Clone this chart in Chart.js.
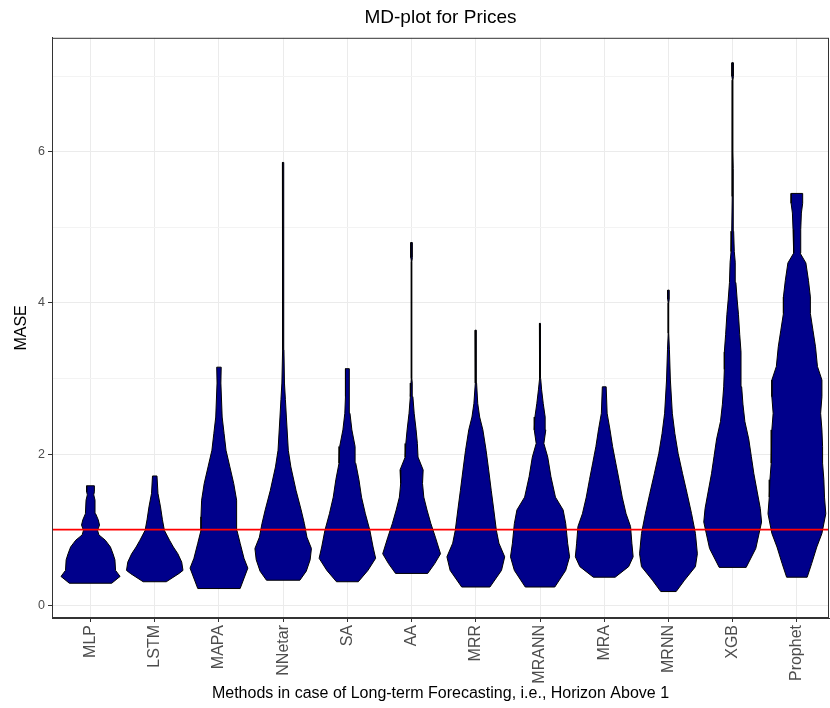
<!DOCTYPE html>
<html>
<head>
<meta charset="utf-8">
<title>MD-plot for Prices</title>
<script src="https://cdn.jsdelivr.net/npm/chart.js@4.4.0/dist/chart.umd.min.js"></script>
<style>
  html, body { margin: 0; padding: 0; background: #fff; overflow: hidden; }
  #wrap { width: 830px; height: 708px; position: relative; }
</style>
</head>
<body>
<div id="wrap"><canvas id="mdPlot"></canvas></div>
<script>
// methods on the x axis, in plot order
const methods = ['MLP', 'LSTM', 'MAPA', 'NNetar', 'SA', 'AA', 'MRR', 'MRANN', 'MRA', 'MRNN', 'XGB', 'Prophet'];

// density profiles: [MASE, half width in category units]
const mlp = [[0.29, 0.33], [0.38, 0.46], [0.46, 0.39], [0.60, 0.38], [0.68, 0.35], [0.77, 0.31], [0.86, 0.23], [0.93, 0.13], [0.99, 0.11], [1.06, 0.14], [1.13, 0.12], [1.21, 0.08], [1.39, 0.07], [1.46, 0.05], [1.50, 0.06], [1.58, 0.06]];
const lstm = [[0.31, 0.18], [0.42, 0.38], [0.46, 0.44], [0.57, 0.42], [0.68, 0.36], [0.77, 0.29], [0.86, 0.23], [0.99, 0.15], [1.13, 0.12], [1.30, 0.09], [1.48, 0.05], [1.71, 0.035]];
const mapa = [[0.22, 0.33], [0.49, 0.45], [0.62, 0.39], [0.82, 0.33], [0.99, 0.28], [1.17, 0.28], [1.39, 0.27], [1.61, 0.23], [1.83, 0.17], [2.05, 0.11], [2.27, 0.08], [2.49, 0.05], [2.94, 0.03], [3.15, 0.035]];
const nnetar = [[0.33, 0.26], [0.45, 0.36], [0.60, 0.42], [0.75, 0.44], [0.90, 0.37], [1.08, 0.33], [1.26, 0.28], [1.52, 0.20], [1.83, 0.12], [2.05, 0.08], [2.49, 0.05], [2.72, 0.035], [2.94, 0.02], [3.38, 0.012], [3.60, 0.012], [3.65, 0.004], [5.40, 0.004], [5.45, 0.012], [5.86, 0.012]];
const sa = [[0.31, 0.17], [0.46, 0.32], [0.62, 0.44], [0.77, 0.40], [0.99, 0.35], [1.21, 0.28], [1.43, 0.22], [1.66, 0.18], [1.88, 0.13], [2.10, 0.12], [2.32, 0.07], [2.54, 0.04], [2.76, 0.03], [3.13, 0.03]];
const aa = [[0.42, 0.25], [0.55, 0.36], [0.68, 0.45], [0.90, 0.37], [1.08, 0.30], [1.26, 0.24], [1.43, 0.19], [1.61, 0.17], [1.79, 0.18], [1.96, 0.10], [2.14, 0.09], [2.32, 0.07], [2.54, 0.04], [2.76, 0.02], [2.94, 0.01], [3.00, 0.004], [4.55, 0.004], [4.60, 0.012], [4.80, 0.012]];
const mrr = [[0.24, 0.22], [0.46, 0.40], [0.64, 0.45], [0.82, 0.36], [0.99, 0.32], [1.26, 0.28], [1.52, 0.24], [1.79, 0.20], [2.05, 0.16], [2.32, 0.11], [2.49, 0.06], [2.67, 0.03], [2.94, 0.012], [3.00, 0.004], [3.45, 0.004], [3.50, 0.012], [3.64, 0.012]];
const mrann = [[0.24, 0.23], [0.46, 0.40], [0.64, 0.46], [0.82, 0.43], [1.08, 0.40], [1.26, 0.36], [1.43, 0.24], [1.70, 0.17], [1.96, 0.12], [2.14, 0.06], [2.32, 0.09], [2.49, 0.08], [2.67, 0.05], [2.85, 0.025], [3.00, 0.01], [3.05, 0.004], [3.60, 0.004], [3.62, 0.01], [3.73, 0.01]];
const mra = [[0.37, 0.17], [0.51, 0.38], [0.64, 0.45], [0.82, 0.43], [1.04, 0.41], [1.21, 0.34], [1.43, 0.28], [1.66, 0.23], [1.88, 0.18], [2.10, 0.13], [2.32, 0.09], [2.54, 0.045], [2.89, 0.03]];
const mrnn = [[0.18, 0.12], [0.33, 0.25], [0.51, 0.42], [0.68, 0.45], [0.95, 0.42], [1.21, 0.36], [1.48, 0.29], [1.74, 0.22], [2.01, 0.15], [2.27, 0.10], [2.54, 0.06], [2.98, 0.03], [3.38, 0.015], [3.60, 0.004], [4.00, 0.004], [4.05, 0.012], [4.17, 0.012]];
const xgb = [[0.50, 0.21], [0.75, 0.36], [1.10, 0.45], [1.28, 0.43], [1.51, 0.38], [1.74, 0.33], [1.97, 0.29], [2.20, 0.25], [2.43, 0.19], [2.66, 0.16], [2.89, 0.14], [3.12, 0.13], [3.35, 0.13], [3.58, 0.11], [3.85, 0.09], [4.04, 0.07], [4.27, 0.05], [4.54, 0.04], [4.68, 0.025], [4.95, 0.015], [5.41, 0.01], [5.78, 0.008], [6.00, 0.004], [6.95, 0.004], [7.00, 0.012], [7.18, 0.012]];
const prophet = [[0.37, 0.16], [0.55, 0.23], [0.77, 0.31], [0.95, 0.39], [1.21, 0.45], [1.43, 0.43], [1.66, 0.42], [1.88, 0.40], [2.10, 0.40], [2.32, 0.39], [2.54, 0.37], [2.76, 0.39], [2.98, 0.39], [3.16, 0.32], [3.42, 0.29], [3.64, 0.25], [3.86, 0.21], [4.08, 0.21], [4.30, 0.18], [4.53, 0.14], [4.66, 0.05], [4.97, 0.06], [5.19, 0.07], [5.32, 0.09], [5.45, 0.09]];

const profiles = [mlp, lstm, mapa, nnetar, sa, aa, mrr, mrann, mra, mrnn, xgb, prophet];

// reference line at MASE = 1
const benchmark = 1;

// axis ranges (ggplot style expansion)
const xMin = -0.6, xMax = 11.5;
const yMin = -0.17, yMax = 7.51;
const yTickLabels = [0, 2, 4, 6];

const font = "'Liberation Sans', Arial, sans-serif";
const fillColor = '#00008B';

// mirrored outline: right edge going up, left edge coming down, closed
function violinOutline(profile, pos) {
    const right = profile.map(([v, w]) => ({ x: pos + w, y: v }));
    const left = profile.slice().reverse().map(([v, w]) => ({ x: pos - w, y: v }));
    return right.concat(left, [right[0]]);
}

const violinSets = profiles.map((p, i) => ({
    label: methods[i],
    data: violinOutline(p, i),
    backgroundColor: fillColor,
    borderColor: '#000000',
    borderWidth: 1,
    pointRadius: 0,
    tension: 0,
    fill: 'shape',
    order: 2,
}));

const benchmarkSet = {
    label: 'MASE = 1',
    data: [{ x: xMin, y: benchmark }, { x: xMax, y: benchmark }],
    borderColor: '#FF0000',
    borderWidth: 1.6,
    pointRadius: 0,
    fill: false,
    order: 0,
};

// ggplot theme_bw panel border
const panelBorder = {
    id: 'panelBorder',
    afterDatasetsDraw(chart) {
        const { ctx, chartArea: a } = chart;
        ctx.save();
        ctx.strokeStyle = '#333333';
        ctx.lineWidth = 1;
        ctx.strokeRect(a.left + 0.5, a.top + 0.5, a.right - a.left - 1, a.bottom - a.top - 1);
        ctx.restore();
    },
};

new Chart(document.getElementById('mdPlot'), {
    type: 'line',
    data: { datasets: violinSets.concat([benchmarkSet]) },
    plugins: [panelBorder],
    options: {
        animation: false,
        responsive: true,
        maintainAspectRatio: false,
        layout: { padding: { left: 0, right: 1, top: 0, bottom: 0 } },
        plugins: {
            legend: { display: false },
            tooltip: { enabled: false },
            title: {
                display: true,
                text: 'MD-plot for Prices',
                fullSize: false,
                color: '#000000',
                font: { family: font, size: 19, weight: 'normal' },
                padding: { top: 6, bottom: 9 },
            },
        },
        scales: {
            x: {
                type: 'linear',
                min: xMin,
                max: xMax,
                afterFit: (s) => { s.height = 90; },
                border: { display: true, color: '#333333', width: 1 },
                grid: { color: '#EBEBEB', lineWidth: 1, tickColor: '#333333', tickLength: 4 },
                ticks: {
                    stepSize: 1,
                    includeBounds: false,
                    autoSkip: false,
                    minRotation: 90,
                    maxRotation: 90,
                    padding: 3,
                    color: '#4D4D4D',
                    font: { family: font, size: 16 },
                    callback: (v) => methods[Math.round(v)] || '',
                },
                title: {
                    display: true,
                    text: 'Methods in case of Long-term Forecasting, i.e., Horizon Above 1',
                    color: '#000000',
                    font: { family: font, size: 16 },
                    padding: { top: 0, bottom: 5 },
                },
            },
            y: {
                type: 'linear',
                min: yMin,
                max: yMax,
                afterFit: (s) => { s.width = 52; },
                border: { display: true, color: '#333333', width: 1 },
                grid: {
                    color: (c) => (c.tick && c.tick.value % 2 === 0 ? '#EBEBEB' : '#F3F3F3'),
                    lineWidth: 1,
                    tickColor: (c) => (c.tick && yTickLabels.includes(c.tick.value) ? '#333333' : 'rgba(0,0,0,0)'),
                    tickLength: 4,
                },
                ticks: {
                    stepSize: 1,
                    includeBounds: false,
                    padding: 3,
                    color: '#4D4D4D',
                    font: { family: font, size: 12.5 },
                    callback: (v) => (yTickLabels.includes(v) ? String(v) : ''),
                },
                title: {
                    display: true,
                    text: 'MASE',
                    color: '#000000',
                    font: { family: font, size: 16 },
                    padding: { top: 12, bottom: 0 },
                },
            },
        },
    },
});
</script>
</body>
</html>
